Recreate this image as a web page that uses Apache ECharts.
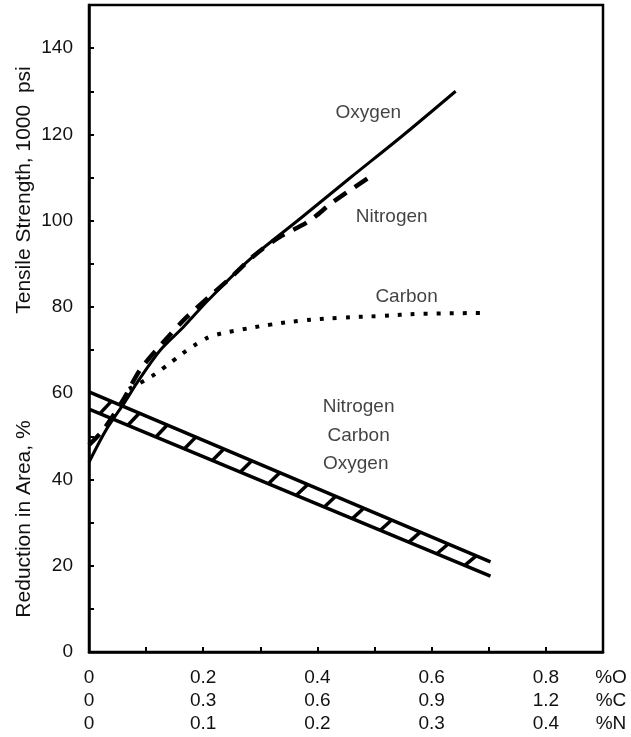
<!DOCTYPE html>
<html>
<head>
<meta charset="utf-8">
<script src="https://cdn.jsdelivr.net/npm/echarts@6/dist/echarts.min.js"></script>
<style>
  html, body { margin: 0; padding: 0; background: #fff; }
  #chart { width: 631px; height: 737px; }
</style>
</head>
<body>
<div id="chart"></div>
<script>
// x values are in % oxygen; the carbon and nitrogen scales are drawn as extra label rows
const oxygenX   = [0, 0.03, 0.063, 0.084, 0.125, 0.165, 0.209, 0.283, 0.37, 0.458, 0.55, 0.642];
const oxygenY   = [44, 51.5, 58, 62.4, 70, 75.3, 81.6, 91.2, 100.5, 110, 119.8, 130];

const nitrogenX = [0, 0.025, 0.06, 0.09, 0.13, 0.17, 0.21, 0.25, 0.29, 0.33, 0.385, 0.427, 0.49];
const nitrogenY = [48, 51.5, 58.5, 65.5, 71.8, 77.5, 82.3, 87, 92, 95.9, 99.9, 104.3, 110];

const carbonX   = [0.07, 0.107, 0.13, 0.151, 0.172, 0.195, 0.216, 0.265, 0.318, 0.37, 0.44, 0.51, 0.58, 0.70];
const carbonY   = [61, 63.7, 65.8, 67.9, 70, 71.9, 73.3, 74.7, 75.9, 76.8, 77.5, 77.9, 78.4, 78.6];

// reduction in area: hatched band between two straight edges
const bandX     = [0, 0.703];
const bandUpper = [60.3, 20.9];
const bandLower = [56.3, 17.6];
const hatchX    = [0.019, 0.068, 0.117, 0.167, 0.216, 0.265, 0.314, 0.363, 0.412, 0.461, 0.51, 0.56, 0.609, 0.658];

// tick label rows
const oLabels = ['0', '0.2', '0.4', '0.6', '0.8'];
const cLabels = ['0', '0.3', '0.6', '0.9', '1.2'];
const nLabels = ['0', '0.1', '0.2', '0.3', '0.4'];
const unitLabels = ['%O', '%C', '%N'];

const annotations = [
  [0.489, 124.9, 'Oxygen'],
  [0.530, 100.8, 'Nitrogen'],
  [0.556, 82.3, 'Carbon'],
  [0.472, 56.8, 'Nitrogen'],
  [0.472, 50.1, 'Carbon'],
  [0.467, 43.6, 'Oxygen']
];

const FONT = 'Liberation Sans, Arial, sans-serif';
const zip = (xs, ys) => xs.map((x, i) => [x, ys[i]]);
const lerp = (xs, ys, x) => ys[0] + (ys[1] - ys[0]) * (x - xs[0]) / (xs[1] - xs[0]);

const chart = echarts.init(document.getElementById('chart'), null, { renderer: 'canvas' });

const HATCH_DX = 0.02;

chart.setOption({
  animation: false,
  backgroundColor: '#fff',
  grid: { left: 89, right: 28, top: 5, bottom: 85, show: true, borderColor: '#000', borderWidth: 2.5, backgroundColor: 'transparent' },
  xAxis: {
    type: 'value', min: 0, max: 0.9, interval: 0.1,
    axisLine: { lineStyle: { color: '#000', width: 2.5 } },
    axisTick: { inside: true, length: 5, lineStyle: { color: '#000', width: 2 } },
    splitLine: { show: false },
    axisLabel: {
      margin: 14, color: '#111', fontSize: 19, fontFamily: FONT, lineHeight: 23,
      formatter: v => {
        const k = Math.round(v * 10);
        if (k % 2 !== 0 || k / 2 >= oLabels.length) return '';
        const i = k / 2;
        return oLabels[i] + '\n' + cLabels[i] + '\n' + nLabels[i];
      }
    }
  },
  yAxis: {
    type: 'value', min: 0, max: 150, interval: 10,
    axisLine: { lineStyle: { color: '#000', width: 2.5 } },
    axisTick: { inside: true, length: 5, lineStyle: { color: '#000', width: 2 } },
    splitLine: { show: false },
    axisLabel: {
      margin: 16, color: '#111', fontSize: 19, fontFamily: FONT,
      formatter: v => (Math.round(v) % 20 === 0 ? String(Math.round(v)) : '')
    }
  },
  series: [
    {
      name: 'Oxygen', type: 'line', smooth: 0.3, symbol: 'none',
      data: zip(oxygenX, oxygenY),
      lineStyle: { color: '#000', width: 3 }
    },
    {
      name: 'Nitrogen', type: 'line', smooth: 0.3, symbol: 'none',
      data: zip(nitrogenX, nitrogenY),
      lineStyle: { color: '#000', width: 4.5, type: [15, 10] }
    },
    {
      name: 'Carbon', type: 'line', smooth: 0.4, symbol: 'none',
      data: zip(carbonX, carbonY),
      lineStyle: { color: '#000', width: 4, type: [4, 9] }
    },
    {
      name: 'Band upper', type: 'line', symbol: 'none',
      data: zip(bandX, bandUpper),
      lineStyle: { color: '#000', width: 3.5 }
    },
    {
      name: 'Band lower', type: 'line', symbol: 'none',
      data: zip(bandX, bandLower),
      lineStyle: { color: '#000', width: 3.5 }
    },
    {
      name: 'Band hatch', type: 'custom',
      data: hatchX.map(x => [x]),
      renderItem: (params, api) => {
        const x = api.value(0);
        const p1 = api.coord([x, lerp(bandX, bandLower, x)]);
        const p2 = api.coord([x + HATCH_DX, lerp(bandX, bandUpper, x + HATCH_DX)]);
        return {
          type: 'line',
          shape: { x1: p1[0], y1: p1[1], x2: p2[0], y2: p2[1] },
          style: { stroke: '#000', lineWidth: 3.5 }
        };
      }
    },
    {
      name: 'Labels', type: 'scatter', symbolSize: 0,
      data: annotations.map(a => ({ value: [a[0], a[1]], name: a[2] })),
      label: {
        show: true, position: 'inside', formatter: p => p.name,
        color: '#111', fontSize: 19, fontFamily: FONT
      }
    }
  ]
});

// axis titles and the unit column to the right of the x label rows
const xEnd = chart.convertToPixel({ gridIndex: 0 }, [0.9, 0])[0];
const yBase = chart.convertToPixel({ gridIndex: 0 }, [0, 0])[1];
chart.setOption({
  graphic: [
    ...unitLabels.map((t, i) => ({
      type: 'text', x: xEnd + 8, y: yBase + 26 + i * 23,
      style: { text: t, fill: '#111', font: '19px ' + FONT, textAlign: 'center', textVerticalAlign: 'middle' }
    })),
    {
      type: 'text', x: 24, y: 190, rotation: Math.PI / 2,
      style: { text: 'Tensile Strength, 1000  psi', fill: '#111', font: '21px ' + FONT, textAlign: 'center', textVerticalAlign: 'middle' }
    },
    {
      type: 'text', x: 24, y: 519, rotation: Math.PI / 2,
      style: { text: 'Reduction in Area, %', fill: '#111', font: '21px ' + FONT, textAlign: 'center', textVerticalAlign: 'middle' }
    }
  ]
});
</script>
</body>
</html>
